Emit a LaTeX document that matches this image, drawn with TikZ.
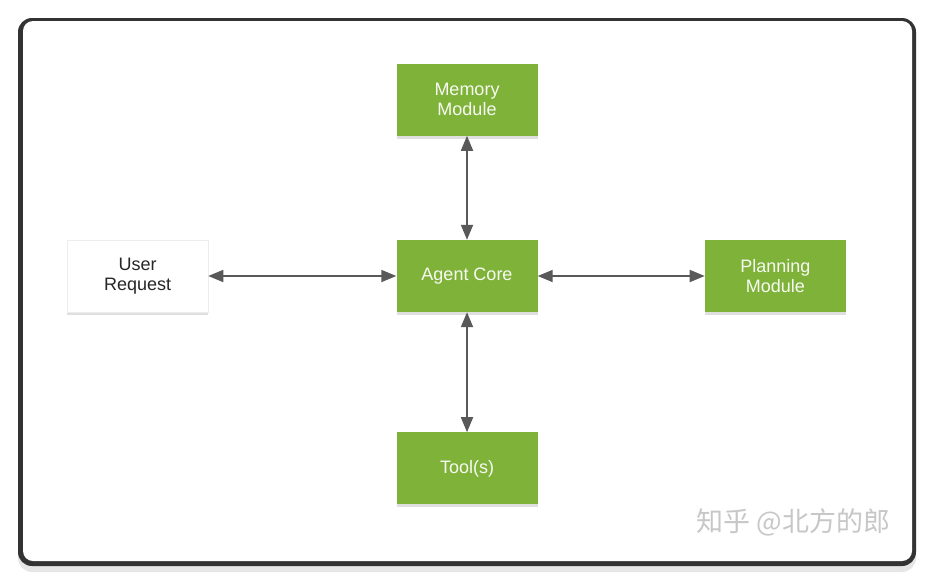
\documentclass[tikz,border=0pt]{standalone}
\usepackage{fontspec}
\setmainfont{Liberation Sans}
\newfontfamily\cjkfont{Noto Sans CJK SC}
\usetikzlibrary{arrows.meta,positioning,shadows}

\definecolor{boxgreen}{HTML}{7FB239}
\definecolor{arrowgray}{HTML}{595959}
\definecolor{framegray}{HTML}{333333}

\begin{document}
\begin{tikzpicture}[x=1pt,y=-1pt,
    >={Triangle[length=15pt,width=12pt]},
    module/.style={rectangle,fill=boxgreen,text=white!94!boxgreen,align=center,
      minimum width=141pt,minimum height=72pt,inner sep=0pt,
      font=\fontsize{18pt}{20.5pt}\selectfont,
      drop shadow={opacity=.25,shadow xshift=0pt,shadow yshift=-3pt}},
    userbox/.style={module,fill=white,draw=black!7,text=black!85},
    link/.style={<->,draw=arrowgray,line width=1.8pt}]
  \useasboundingbox (0,0) rectangle (934,584);

  % card
  \fill[framegray,rounded corners=14pt,
        drop shadow={opacity=.2,shadow xshift=0pt,shadow yshift=-6pt}]
        (18,18) rectangle (916,566);
  \fill[white,rounded corners=10pt] (23,21) rectangle (912,561);

  \node[module]   (core)                          at (467,276) {Agent Core};
  \node[module]   (memory)  [above=104pt of core]  {Memory\\Module};
  \node[module]   (tools)   [below=120pt of core]  {Tool(s)};
  \node[userbox]  (user)    [left=188pt of core]   {User\\Request};
  \node[module]   (planning)[right=167pt of core]  {Planning\\Module};

  \draw[link] (memory) -- (core);
  \draw[link] (core)   -- (tools);
  \draw[link] (user)   -- (core);
  \draw[link] (core)   -- (planning);

  % watermark
  \node[anchor=west,text=black!22,font=\cjkfont\fontsize{27pt}{29pt}\selectfont]
       (mark) at (693,522) {知乎 @北方的郎};
\end{tikzpicture}
\end{document}
